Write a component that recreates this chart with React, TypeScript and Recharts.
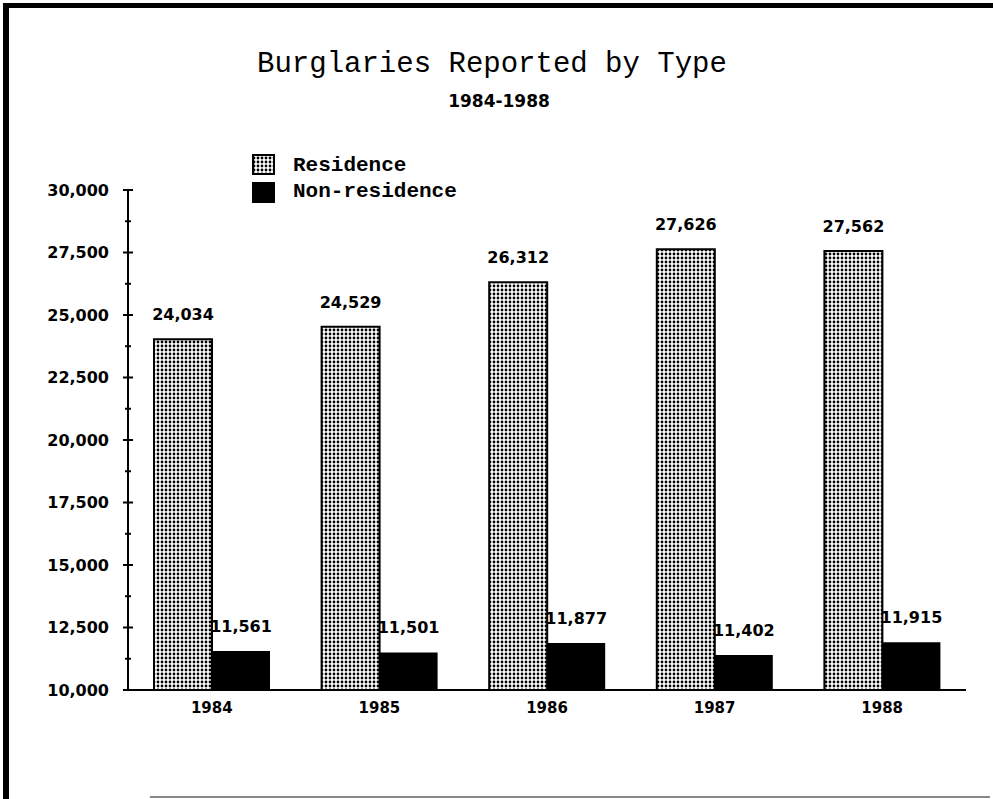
import { Bar, BarChart, LabelList, XAxis, YAxis } from 'recharts';

const years = ['1984', '1985', '1986', '1987', '1988'];
const residence = [24034, 24529, 26312, 27626, 27562];
const nonResidence = [11561, 11501, 11877, 11402, 11915];
const yTicks = [
  10000, 11250, 12500, 13750, 15000, 16250, 17500, 18750, 20000, 21250, 22500, 23750, 25000, 26250,
  27500, 28750, 30000,
];

const data = years.map((year, i) => ({
  year,
  residence: residence[i],
  nonResidence: nonResidence[i],
}));

const NUM_FONT = '"DejaVu Sans", sans-serif';
const MONO_FONT = '"Liberation Mono", "Courier New", monospace';

const fmt = (v: unknown) => Number(v).toLocaleString('en-US');

// tick mark crosses the axis; only every 2500 gets a label
function YTick(props: any) {
  const { x, y, payload } = props;
  const major = payload.value % 2500 === 0;
  const half = major ? 5 : 3;
  return (
    <g>
      <line x1={x - half} x2={x + half} y1={y} y2={y} stroke="#000" strokeWidth={2} />
      {major && (
        <text
          x={x - 19}
          y={y}
          dy="0.36em"
          textAnchor="end"
          fontFamily={NUM_FONT}
          fontWeight="bold"
          fontSize={16}
          fill="#000"
        >
          {fmt(payload.value)}
        </text>
      )}
    </g>
  );
}

export default function App() {
  return (
    <div
      style={{
        position: 'absolute',
        left: 0,
        top: 0,
        width: 993,
        height: 799,
        background: '#fff',
        overflow: 'hidden',
      }}
    >
      <svg width={0} height={0} style={{ position: 'absolute' }}>
        <defs>
          <pattern id="dots" width={4} height={4} patternUnits="userSpaceOnUse">
            <rect width={4} height={4} fill="#fff" />
            <circle cx={2} cy={2} r={1.4} fill="#000" />
          </pattern>
        </defs>
      </svg>

      {/* scanned page frame */}
      <div style={{ position: 'absolute', left: 3, top: 3, width: 993, height: 5, background: '#000' }} />
      <div style={{ position: 'absolute', left: 3, top: 3, width: 6, height: 799, background: '#000' }} />
      <div style={{ position: 'absolute', left: 150, top: 796, width: 840, height: 2, background: '#888' }} />

      <BarChart
        width={993}
        height={799}
        data={data}
        margin={{ top: 190, right: 27, left: 0, bottom: 79 }}
        barSize={58}
        barGap={0}
        style={{ position: 'absolute', left: 0, top: 0 }}
      >
        <XAxis
          dataKey="year"
          height={30}
          axisLine={{ stroke: '#000', strokeWidth: 2 }}
          tickLine={false}
          tickSize={6}
          tickMargin={6}
          tick={{ fill: '#000', fontFamily: NUM_FONT, fontWeight: 'bold', fontSize: 15 }}
        />
        <YAxis
          width={128}
          domain={[10000, 30000]}
          ticks={yTicks}
          interval={0}
          axisLine={{ stroke: '#000', strokeWidth: 2 }}
          tickLine={false}
          tickSize={0}
          tickMargin={0}
          tick={<YTick />}
        />
        <Bar
          dataKey="residence"
          fill="url(#dots)"
          stroke="#000"
          strokeWidth={2}
          isAnimationActive={false}
        >
          <LabelList
            dataKey="residence"
            position="top"
            offset={19}
            formatter={fmt}
            fill="#000"
            fontFamily={NUM_FONT}
            fontWeight="bold"
            fontSize={16}
          />
        </Bar>
        <Bar dataKey="nonResidence" fill="#000" isAnimationActive={false}>
          <LabelList
            dataKey="nonResidence"
            position="top"
            offset={19}
            formatter={fmt}
            fill="#000"
            fontFamily={NUM_FONT}
            fontWeight="bold"
            fontSize={16}
          />
        </Bar>
      </BarChart>

      <svg
        width={993}
        height={799}
        style={{ position: 'absolute', left: 0, top: 0, pointerEvents: 'none' }}
      >
        <text x={492} y={72} textAnchor="middle" fontFamily={MONO_FONT} fontSize={29} fill="#000">
          Burglaries Reported by Type
        </text>
        <text
          x={499}
          y={107}
          textAnchor="middle"
          fontFamily={NUM_FONT}
          fontWeight="bold"
          fontSize={17}
          fill="#000"
        >
          1984-1988
        </text>

        <rect x={253} y={155} width={21} height={19} fill="url(#dots)" stroke="#000" strokeWidth={2} />
        <text x={293} y={171} fontFamily={MONO_FONT} fontWeight="bold" fontSize={21} fill="#000">
          Residence
        </text>
        <rect x={252} y={182} width={23} height={21} fill="#000" />
        <text x={293} y={197} fontFamily={MONO_FONT} fontWeight="bold" fontSize={21} fill="#000">
          Non-residence
        </text>
      </svg>
    </div>
  );
}
